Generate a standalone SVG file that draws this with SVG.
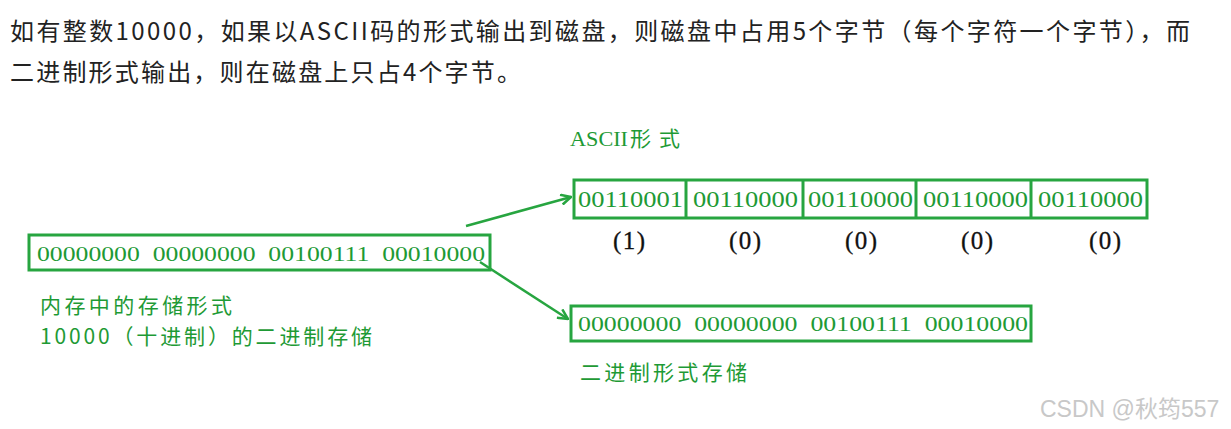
<svg xmlns="http://www.w3.org/2000/svg" width="1231" height="429" viewBox="0 0 1231 429">
<style>
.hd{font-family:"Noto Sans CJK SC","Noto Sans",sans-serif;font-size:24px;fill:#222}
.bin{font-family:"Liberation Serif","Noto Sans CJK SC",serif;fill:#1e9a35;white-space:pre}
.lbl{font-family:"Noto Sans CJK SC",serif;font-size:21px;fill:#1e9a35}
.idx{font-family:"Liberation Serif",serif;font-size:25px;fill:#111;stroke:#111;stroke-width:0.3}
.box{fill:none;stroke:#27a540;stroke-width:3}
.con{fill:none;stroke:#27a540;stroke-width:2.5}
</style>
<defs>
<marker id="ah" viewBox="0 0 12 12" refX="11" refY="6" markerWidth="12" markerHeight="12" markerUnits="userSpaceOnUse" orient="auto">
<path d="M1,1 L11,6 L1,11" fill="none" stroke="#27a540" stroke-width="2.5"/>
</marker>
</defs>
<rect width="1231" height="429" fill="#fff"/>
<g id="header">
<text class="hd" x="10" y="40" textLength="1180" lengthAdjust="spacing">如有整数10000，如果以ASCII码的形式输出到磁盘，则磁盘中占用5个字节（每个字符一个字节），而</text>
<text class="hd" x="10" y="81" textLength="511" lengthAdjust="spacing">二进制形式输出，则在磁盘上只占4个字节。</text>
</g>
<g id="memory">
<rect class="box" x="29" y="235" width="461" height="35"/>
<text class="bin" x="37" y="261" font-size="21" textLength="448" lengthAdjust="spacingAndGlyphs" xml:space="preserve">00000000  00000000  00100111  00010000</text>
<text class="lbl" x="40" y="313" textLength="192" lengthAdjust="spacing">内存中的存储形式</text>
<text class="lbl" x="40" y="344" textLength="332" lengthAdjust="spacing">10000（十进制）的二进制存储</text>
</g>
<g id="ascii">
<text class="lbl" x="570" y="146"><tspan font-family="Liberation Serif,serif" textLength="58" lengthAdjust="spacingAndGlyphs">ASCII</tspan><tspan x="630" textLength="50" lengthAdjust="spacing">形式</tspan></text>
<rect class="box" x="574" y="180" width="573" height="38"/>
<line class="box" x1="686" y1="180" x2="686" y2="218"/>
<line class="box" x1="803" y1="180" x2="803" y2="218"/>
<line class="box" x1="916" y1="180" x2="916" y2="218"/>
<line class="box" x1="1031" y1="179" x2="1031" y2="218"/>
<text class="bin" x="578" y="207" font-size="24" textLength="105" lengthAdjust="spacingAndGlyphs">00110001</text>
<text class="bin" x="693" y="207" font-size="24" textLength="105" lengthAdjust="spacingAndGlyphs">00110000</text>
<text class="bin" x="808" y="207" font-size="24" textLength="105" lengthAdjust="spacingAndGlyphs">00110000</text>
<text class="bin" x="923" y="207" font-size="24" textLength="105" lengthAdjust="spacingAndGlyphs">00110000</text>
<text class="bin" x="1038" y="207" font-size="24" textLength="105" lengthAdjust="spacingAndGlyphs">00110000</text>
<text class="idx" x="629" y="249" text-anchor="middle" textLength="32">(1)</text>
<text class="idx" x="745" y="249" text-anchor="middle" textLength="32">(0)</text>
<text class="idx" x="861" y="249" text-anchor="middle" textLength="32">(0)</text>
<text class="idx" x="977" y="249" text-anchor="middle" textLength="32">(0)</text>
<text class="idx" x="1105" y="249" text-anchor="middle" textLength="32">(0)</text>
</g>
<g id="binary">
<rect class="box" x="571" y="306" width="460" height="35"/>
<text class="bin" x="578" y="331" font-size="21" textLength="450" lengthAdjust="spacingAndGlyphs" xml:space="preserve">00000000  00000000  00100111  00010000</text>
<text class="lbl" x="580" y="380" textLength="167" lengthAdjust="spacing">二进制形式存储</text>
</g>
<g id="connectors">
<line class="con" x1="466" y1="226" x2="571" y2="197" marker-end="url(#ah)"/>
<line class="con" x1="480" y1="262" x2="568" y2="319" marker-end="url(#ah)"/>
</g>
<g id="watermark">
<text x="1040" y="417" font-family="Liberation Sans,'Noto Sans CJK SC',sans-serif" font-size="23" fill="#c8c8c8">CSDN @秋筠557</text>
</g>
</svg>
